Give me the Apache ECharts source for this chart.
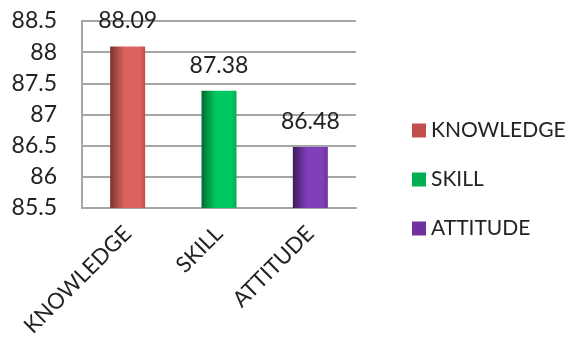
<!DOCTYPE html>
<html lang="en">
<head>
    <meta charset="UTF-8">
    <title>KSA bar chart</title>
    <script src="https://cdn.jsdelivr.net/npm/echarts@6/dist/echarts.min.js"></script>
    <style>
        body { margin: 0; background: #fff; }
        #main { width: 577px; height: 347px; }
    </style>
</head>
<body>
<div id="main"></div>
<script type="text/javascript">
    var categories = ['KNOWLEDGE', 'SKILL', 'ATTITUDE'];
    var values = [88.09, 87.38, 86.48];
    var yTicks = [85.5, 86, 86.5, 87, 87.5, 88, 88.5];
    var flatColors = ['#C0504D', '#00B050', '#7030A0'];
    var darkColors = ['#7a3230', '#006b30', '#40195f'];
    var lightColors = ['#db625e', '#00c860', '#8040b8'];

    var myChart = echarts.init(document.getElementById('main'));
    var font = 'Lato';

    // one series per category so the legend gets three entries
    var series = categories.map(function (name, i) {
        var data = categories.map(function (c, j) { return j === i ? values[i] : '-'; });
        return {
            name: name,
            type: 'bar',
            barGap: '-100%',
            barWidth: 35,
            data: data,
            itemStyle: {
                color: new echarts.graphic.LinearGradient(0, 0, 1, 0, [
                    {offset: 0, color: darkColors[i]},
                    {offset: 0.4, color: lightColors[i]},
                    {offset: 0.85, color: lightColors[i]},
                    {offset: 1, color: flatColors[i]}
                ])
            },
            label: {
                show: true,
                position: 'top',
                distance: 14,
                fontFamily: font,
                fontSize: 23,
                color: '#222'
            }
        };
    });

    var option = {
        animation: false,
        grid: {left: 82, right: 221, top: 21, bottom: 139},
        legend: {
            orient: 'vertical',
            left: 407,
            top: 115,
            itemWidth: 14,
            itemHeight: 14,
            itemGap: 28,
            icon: 'rect',
            textStyle: {fontFamily: font, fontSize: 21, color: '#222'},
            data: categories.map(function (c, i) {
                return {name: c, itemStyle: {color: flatColors[i]}};
            })
        },
        xAxis: {
            type: 'category',
            data: categories,
            axisLine: {show: true, lineStyle: {color: '#a6a6a6', width: 2}},
            axisTick: {show: false},
            axisLabel: {
                rotate: 45,
                margin: 22,
                fontFamily: font,
                fontSize: 22,
                color: '#222'
            }
        },
        yAxis: {
            type: 'value',
            min: yTicks[0],
            max: yTicks[yTicks.length - 1],
            interval: 0.5,
            axisLine: {show: true, lineStyle: {color: '#a6a6a6', width: 2}},
            axisTick: {show: false},
            splitLine: {lineStyle: {color: '#a6a6a6', width: 2}},
            axisLabel: {
                margin: 25,
                fontFamily: font,
                fontSize: 23,
                color: '#222',
                formatter: function (v) { return String(v); }
            }
        },
        series: series
    };
    myChart.setOption(option);
</script>
</body>
</html>
